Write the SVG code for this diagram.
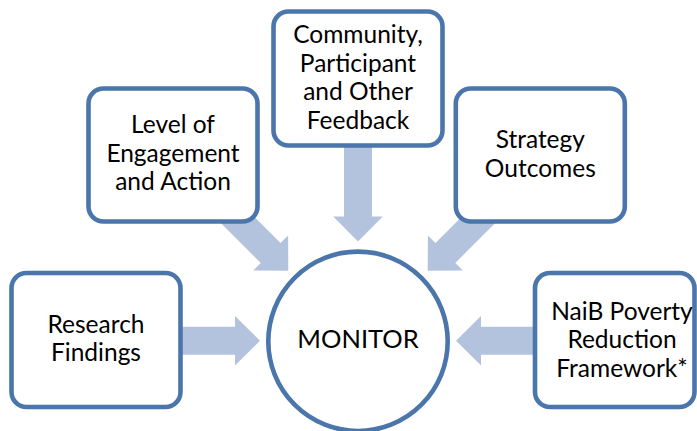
<svg xmlns="http://www.w3.org/2000/svg" xmlns:xlink="http://www.w3.org/1999/xlink" width="697" height="431" viewBox="0 0 697 431">
<style>
.box{fill:#fff;stroke:#4A76AC;stroke-width:4.6}
.arrow{fill:#B3C3DE;stroke:none}
text{font-family:Lato,"Open Sans","Liberation Sans",sans-serif;font-size:24.5px;fill:#000;text-anchor:middle}
.big{font-size:25.5px}
</style>
<defs>
<path id="arr" d="M-100,-14 H-25 V-24.75 L0,0 L-25,24.75 V14 H-100 Z"/>
</defs>
<rect width="697" height="431" fill="#fff"/>
<g id="connectors" class="arrow">
<use xlink:href="#arr" href="#arr" transform="translate(260,340.7)"/>
<use xlink:href="#arr" href="#arr" transform="translate(456,340.7) rotate(180)"/>
<use xlink:href="#arr" href="#arr" transform="translate(358,241.5) rotate(90)"/>
<use xlink:href="#arr" href="#arr" transform="translate(288.3,270.7) rotate(45)"/>
<use xlink:href="#arr" href="#arr" transform="translate(427.7,270.7) rotate(135)"/>
</g>
<g id="research">
<rect class="box" x="11.5" y="273" width="169" height="134" rx="15"/>
<text x="96" y="333">Research</text>
<text x="96" y="360.5">Findings</text>
</g>
<g id="engagement">
<rect class="box" x="88.5" y="88.5" width="169" height="133" rx="15"/>
<text x="173" y="133.3">Level of</text>
<text x="173" y="161.8">Engagement</text>
<text x="173" y="190.2">and Action</text>
</g>
<g id="feedback">
<rect class="box" x="273.5" y="11.5" width="169" height="134" rx="15"/>
<text x="358" y="42.7">Community,</text>
<text x="358" y="71.5">Participant</text>
<text x="358" y="100.2">and Other</text>
<text x="358" y="129">Feedback</text>
</g>
<g id="strategy">
<rect class="box" x="455.8" y="88.5" width="169" height="133" rx="15"/>
<text x="540.3" y="148.3">Strategy</text>
<text x="540.3" y="177.3">Outcomes</text>
</g>
<g id="naib">
<rect class="box" x="535" y="273" width="159.5" height="134" rx="15"/>
<text x="622" y="320">NaiB Poverty</text>
<text x="622" y="348.4">Reduction</text>
<text x="622" y="376.8">Framework*</text>
</g>
<g id="monitor">
<circle class="box" cx="358" cy="341.3" r="89.7"/>
<text class="big" x="358" y="348.3">MONITOR</text>
</g>
</svg>
